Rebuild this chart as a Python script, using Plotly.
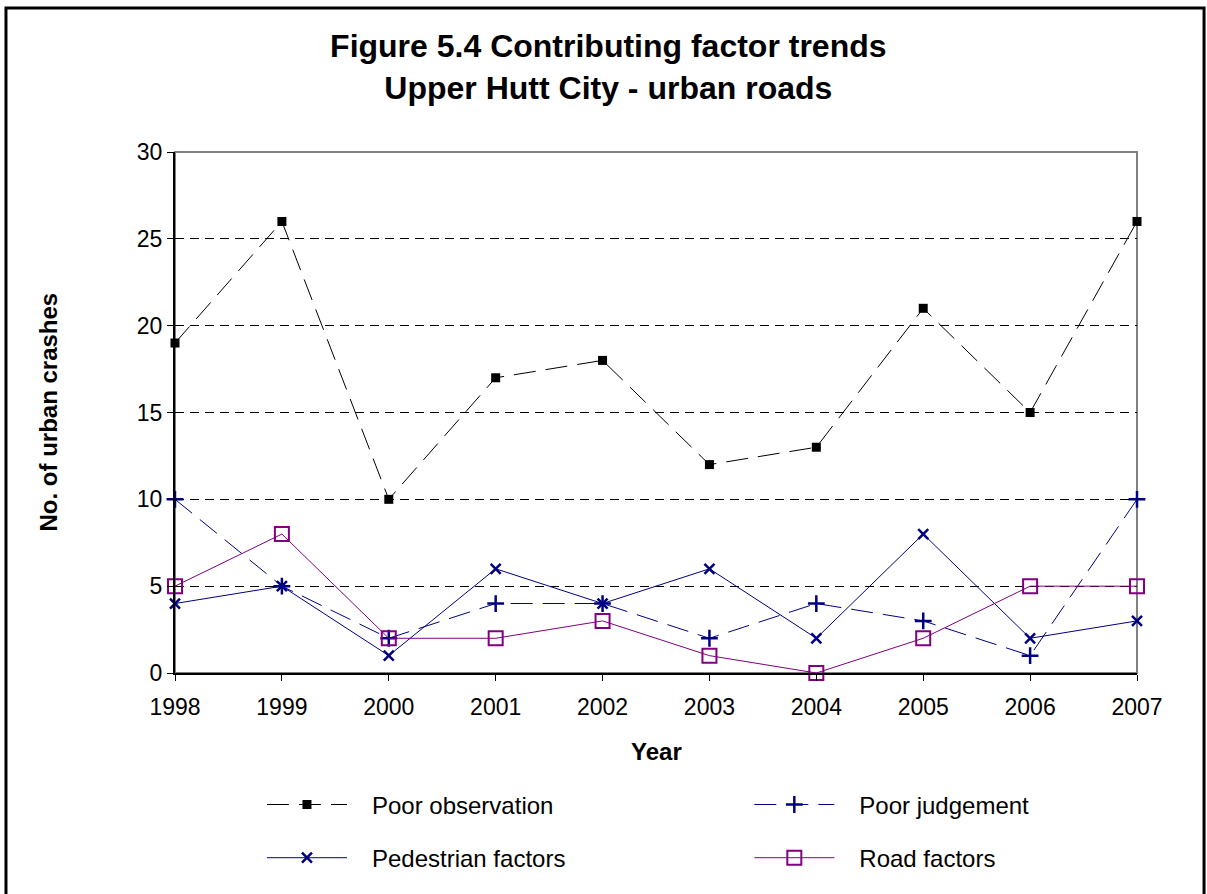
import plotly.graph_objects as go

# chart data
years = [1998, 1999, 2000, 2001, 2002, 2003, 2004, 2005, 2006, 2007]
poor_observation = [19, 26, 10, 17, 18, 12, 13, 21, 15, 26]
poor_judgement = [10, 5, 2, 4, 4, 2, 4, 3, 1, 10]
pedestrian_factors = [4, 5, 1, 6, 4, 6, 2, 8, 2, 3]
road_factors = [5, 8, 2, 2, 3, 1, 0, 2, 5, 5]
y_ticks = [0, 5, 10, 15, 20, 25, 30]

family = "Liberation Sans, Arial, sans-serif"
navy = "#000080"
purple = "#800080"
pad = "\u00a0\u00a0\u00a0"  # gap between legend symbol and label

fig = go.Figure()
fig.add_trace(go.Scatter(x=years, y=poor_observation, name=pad + "Poor observation",
                         mode="lines+markers", cliponaxis=False, legend="legend",
                         legendgroup="a",
                         line=dict(color="black", width=1, dash="22px,10px"),
                         marker=dict(symbol="square", size=9, color="black")))
fig.add_trace(go.Scatter(x=years, y=poor_judgement, name=pad + "Poor judgement",
                         mode="lines+markers", cliponaxis=False, legend="legend2",
                         legendgroup="b",
                         line=dict(color=navy, width=1, dash="22px,10px"),
                         marker=dict(symbol="cross-thin", size=12, color=navy,
                                     line=dict(color=navy, width=2.5))))
fig.add_trace(go.Scatter(x=years, y=pedestrian_factors, name=pad + "Pedestrian factors",
                         mode="lines+markers", cliponaxis=False, legend="legend",
                         legendgroup="c",
                         line=dict(color=navy, width=1),
                         marker=dict(symbol="x-thin", size=10, color=navy,
                                     line=dict(color=navy, width=2.5))))
fig.add_trace(go.Scatter(x=years, y=road_factors, name=pad + "Road factors",
                         mode="lines+markers", cliponaxis=False, legend="legend2",
                         legendgroup="d",
                         line=dict(color=purple, width=1),
                         marker=dict(symbol="square-open", size=14, color=purple,
                                     line=dict(color=purple, width=2))))

# outer frame around the chart
fig.add_shape(type="rect", xref="paper", yref="paper",
              x0=-0.1757, x1=1.0697, y0=-0.45, y1=1.2764,
              line=dict(color="black", width=3), layer="below")
# plot area frame (grey)
fig.add_shape(type="rect", xref="paper", yref="paper", x0=0, x1=1, y0=0, y1=1,
              line=dict(color="#808080", width=2), layer="below")

fig.add_annotation(text="<b>No. of urban crashes</b>", xref="paper", yref="paper",
                   x=-0.132, y=0.5, xanchor="center", yanchor="middle",
                   textangle=-90, showarrow=False,
                   font=dict(size=24, family=family, color="black"))
fig.add_annotation(text="<b>Year</b>", xref="paper", yref="paper",
                   x=0.5, y=-0.1516, xanchor="center", yanchor="middle",
                   showarrow=False,
                   font=dict(size=24, family=family, color="black"))

legend_common = dict(orientation="v", yanchor="top", xanchor="left",
                     font=dict(size=24, family=family, color="black"),
                     itemwidth=80, tracegroupgap=19, bgcolor="rgba(0,0,0,0)")

fig.update_layout(
    width=1207, height=894,
    margin=dict(l=175, r=70, t=152, b=221),
    paper_bgcolor="white", plot_bgcolor="white",
    font=dict(family=family, color="black"),
    title=dict(text="<b>Figure 5.4 Contributing factor trends<br>Upper Hutt City - urban roads</b>",
               x=0.504, xanchor="center", y=0.936, yanchor="top",
               font=dict(size=32, family=family, color="black")),
    legend=dict(x=0.0904, y=-0.21, **legend_common),
    legend2=dict(x=0.597, y=-0.21, **legend_common),
    xaxis=dict(range=[1998, 2007], tickvals=years, ticktext=[str(y) for y in years],
               showgrid=False, zeroline=False, showline=True, linecolor="black",
               linewidth=2, ticks="outside", ticklen=6, tickcolor="black",
               tickfont=dict(size=23), ticklabelstandoff=6),
    yaxis=dict(range=[0, 30], tickvals=y_ticks, showgrid=True, gridcolor="black",
               griddash="9px,6px", gridwidth=1, zeroline=False, showline=True,
               linecolor="black", linewidth=2, ticks="outside", ticklen=6,
               tickcolor="black", tickfont=dict(size=23)),
)

# drop the browser's default body margin so the figure sits at the page corner
fig.write_html("out.html", config={"displayModeBar": False},
               post_script="document.body.style.margin = '0';")
